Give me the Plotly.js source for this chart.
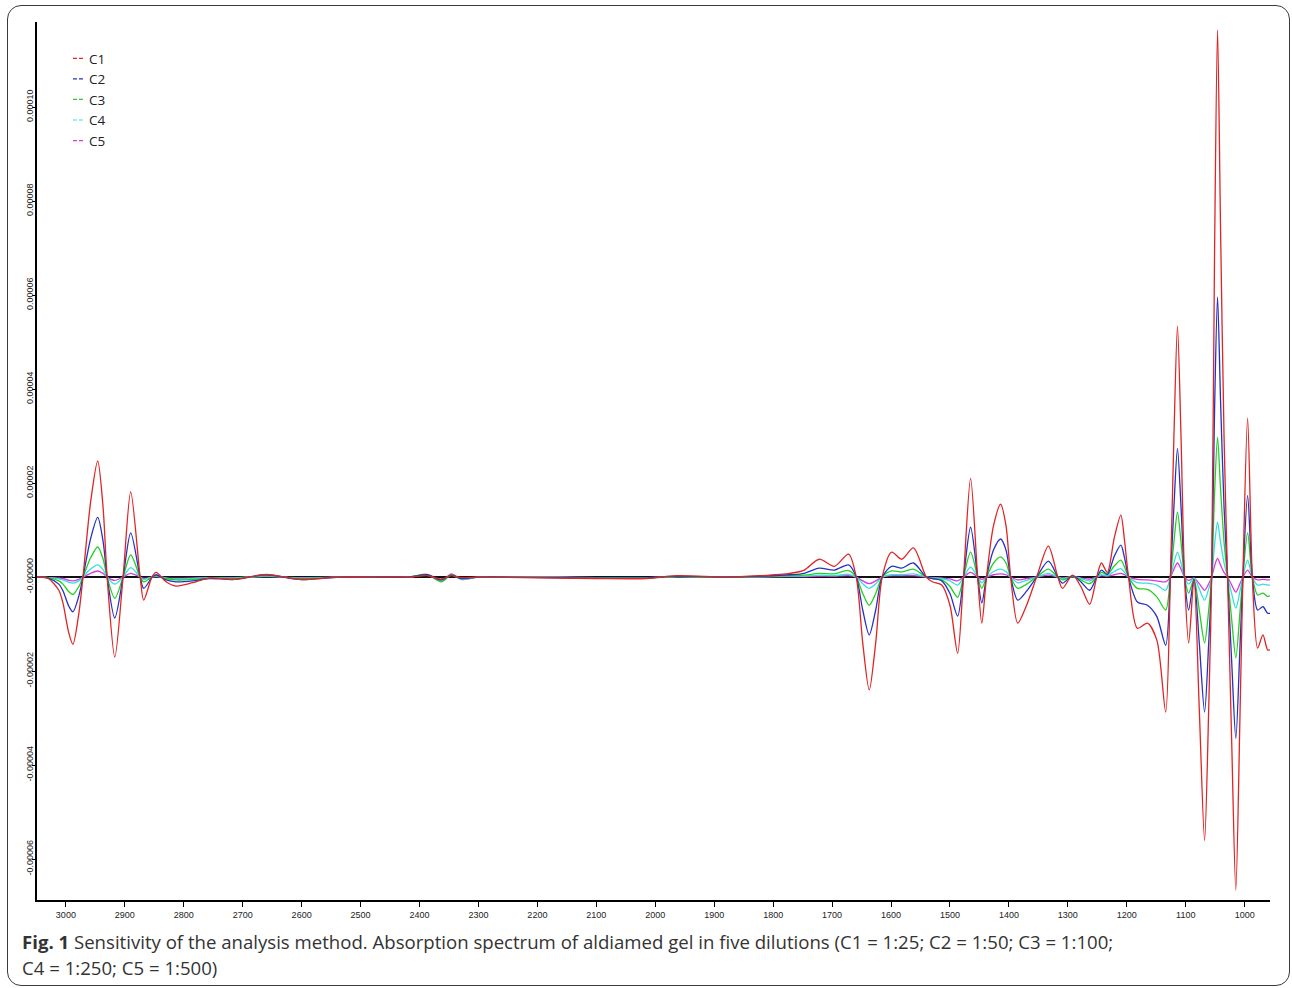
<!DOCTYPE html>
<html>
<head>
<meta charset="utf-8">
<script src="https://cdn.plot.ly/plotly-3.0.1.min.js"></script>
<style>
  html, body { margin: 0; padding: 0; background: #fff; }
  #wrap { position: relative; width: 1292px; height: 988px; overflow: hidden; }
  #chart { position: absolute; left: 0; top: 0; width: 1292px; height: 988px; }
  #frame { position: absolute; left: 7px; top: 5px; width: 1283px; height: 981px; box-sizing: border-box;
           border: 1.5px solid #3a3a3a; border-radius: 14px; pointer-events: none; }
</style>
</head>
<body>
<div id="wrap">
  <div id="chart"></div>
  <div id="frame"></div>
</div>
<script>
// Wavenumbers (cm-1)
const wavenumber = [3049,3030,3012,3005,2995,2988,2978,2971,2958,2946,2937,2930,2917,2903,2890,2874,2868,2854,2847,2830,2813,2785,2757,2715,2660,2604,2536,2420,2387,2363,2346,2329,2300,2100,2015,1963,1880,1823,1772,1747,1722,1696,1672,1659,1648,1637,1626,1615,1599,1582,1562,1540,1530,1514,1500,1487,1477,1465,1453,1446,1438,1426,1414,1405,1397,1385,1370,1353,1333,1317,1309,1292,1278,1263,1251,1243,1233,1221,1210,1204,1197,1182,1165,1149,1134,1126,1120,1114,1108,1102,1095,1086,1077,1068,1061,1056,1051,1046,1041,1035,1029,1022,1015,1008,1003,995,987,978,969,961,957];

// C1 = 1:25
const c1 = [0,-0.03e-5,-0.28e-5,-0.55e-5,-1.19e-5,-1.43e-5,-0.77e-5,0,1.6e-5,2.47e-5,1.5e-5,0,-1.70e-5,0,1.81e-5,0,-0.49e-5,0,0.10e-5,-0.10e-5,-0.19e-5,-0.12e-5,-0.02e-5,-0.05e-5,0.06e-5,-0.05e-5,0,0,0.03e-5,-0.04e-5,0.03e-5,-0.01e-5,0,-0.03e-5,-0.03e-5,0.03e-5,0,0.03e-5,0.08e-5,0.15e-5,0.38e-5,0.23e-5,0.49e-5,0,-1.40e-5,-2.40e-5,-1.40e-5,0,0.53e-5,0.38e-5,0.62e-5,0,-0.10e-5,-0.17e-5,-0.60e-5,-1.62e-5,0,2.10e-5,0,-0.98e-5,0,1.10e-5,1.55e-5,1.10e-5,0,-0.98e-5,-0.60e-5,0,0.66e-5,0,-0.24e-5,0.04e-5,-0.20e-5,-0.58e-5,0,0.30e-5,0.10e-5,0.85e-5,1.32e-5,0.80e-5,0,-1.09e-5,-0.98e-5,-1.34e-5,-2.87e-5,0,3.00e-5,5.34e-5,3.00e-5,0,-1.40e-5,-0.05e-5,-2.80e-5,-5.60e-5,-2.80e-5,0,7.00e-5,11.64e-5,7.50e-5,3.00e-5,0,-3.50e-5,-6.66e-5,-3.00e-5,0,3.38e-5,0,-1.51e-5,-1.23e-5,-1.55e-5,-1.55e-5];

// C2 = 1:50
const c2 = [0,-0.02e-5,-0.15e-5,-0.29e-5,-0.62e-5,-0.74e-5,-0.40e-5,0,0.82e-5,1.27e-5,0.77e-5,0,-0.87e-5,0,0.94e-5,0,-0.24e-5,-0.01e-5,0.05e-5,-0.06e-5,-0.10e-5,-0.08e-5,-0.03e-5,-0.05e-5,0.05e-5,-0.05e-5,0,0,0.05e-5,-0.06e-5,0.04e-5,-0.03e-5,0,-0.02e-5,-0.02e-5,0.02e-5,0,0.02e-5,0.05e-5,0.08e-5,0.19e-5,0.15e-5,0.26e-5,0,-0.70e-5,-1.23e-5,-0.70e-5,0,0.23e-5,0.19e-5,0.30e-5,0,-0.03e-5,-0.08e-5,-0.35e-5,-0.83e-5,0,1.06e-5,0,-0.55e-5,0,0.58e-5,0.81e-5,0.58e-5,0,-0.49e-5,-0.30e-5,0,0.34e-5,0,-0.13e-5,0.03e-5,-0.10e-5,-0.28e-5,0,0.15e-5,0.06e-5,0.45e-5,0.68e-5,0.42e-5,0,-0.53e-5,-0.60e-5,-0.84e-5,-1.45e-5,0,1.50e-5,2.74e-5,1.50e-5,0,-0.70e-5,-0.05e-5,-1.40e-5,-2.87e-5,-1.40e-5,0,3.60e-5,5.96e-5,3.80e-5,1.50e-5,0,-1.80e-5,-3.43e-5,-1.50e-5,0,1.74e-5,0,-0.70e-5,-0.63e-5,-0.77e-5,-0.77e-5];

// C3 = 1:100
const c3 = [0,-0.01e-5,-0.08e-5,-0.15e-5,-0.31e-5,-0.37e-5,-0.20e-5,0,0.41e-5,0.64e-5,0.39e-5,0,-0.45e-5,0,0.47e-5,0,-0.10e-5,0,0.03e-5,-0.03e-5,-0.06e-5,-0.05e-5,-0.02e-5,-0.03e-5,0.03e-5,-0.03e-5,0,0,0.06e-5,-0.10e-5,0.05e-5,-0.03e-5,0,-0.02e-5,-0.02e-5,0.01e-5,0,0.01e-5,0.03e-5,0.04e-5,0.08e-5,0.07e-5,0.14e-5,0,-0.35e-5,-0.60e-5,-0.35e-5,0,0.13e-5,0.11e-5,0.17e-5,0,-0.03e-5,-0.06e-5,-0.20e-5,-0.43e-5,0,0.53e-5,0,-0.24e-5,0,0.30e-5,0.43e-5,0.30e-5,0,-0.24e-5,-0.15e-5,0,0.17e-5,0,-0.06e-5,0.02e-5,-0.06e-5,-0.14e-5,0,0.10e-5,0.05e-5,0.24e-5,0.36e-5,0.22e-5,0,-0.24e-5,-0.26e-5,-0.42e-5,-0.70e-5,0,0.75e-5,1.38e-5,0.75e-5,0,-0.34e-5,-0.05e-5,-0.70e-5,-1.40e-5,-0.70e-5,0,1.80e-5,2.98e-5,1.90e-5,0.75e-5,0,-0.90e-5,-1.72e-5,-0.75e-5,0,0.94e-5,0,-0.38e-5,-0.34e-5,-0.41e-5,-0.40e-5];

// C4 = 1:250
const c4 = [0,-0.01e-5,-0.04e-5,-0.06e-5,-0.11e-5,-0.13e-5,-0.08e-5,0,0.17e-5,0.26e-5,0.16e-5,0,-0.15e-5,0,0.20e-5,0,-0.05e-5,0,0.02e-5,-0.02e-5,-0.04e-5,-0.03e-5,-0.01e-5,-0.02e-5,0.02e-5,-0.02e-5,0,0,0.05e-5,-0.07e-5,0.04e-5,-0.05e-5,0,-0.01e-5,-0.01e-5,0.01e-5,0,0.01e-5,0.02e-5,0.02e-5,0.04e-5,0.03e-5,0.06e-5,0,-0.14e-5,-0.24e-5,-0.14e-5,0,0.05e-5,0.05e-5,0.07e-5,0,-0.02e-5,-0.03e-5,-0.08e-5,-0.17e-5,0,0.21e-5,0,-0.12e-5,0,0.12e-5,0.17e-5,0.12e-5,0,-0.12e-5,-0.07e-5,0,0.08e-5,0,-0.03e-5,0.01e-5,-0.03e-5,-0.08e-5,0,0.05e-5,0.03e-5,0.12e-5,0.18e-5,0.10e-5,0,-0.12e-5,-0.13e-5,-0.17e-5,-0.28e-5,0,0.30e-5,0.53e-5,0.30e-5,0,-0.15e-5,-0.02e-5,-0.25e-5,-0.49e-5,-0.25e-5,0,0.70e-5,1.17e-5,0.75e-5,0.30e-5,0,-0.35e-5,-0.66e-5,-0.30e-5,0,0.36e-5,0,-0.17e-5,-0.15e-5,-0.17e-5,-0.17e-5];

// C5 = 1:500
const c5 = [0,-0.01e-5,-0.02e-5,-0.03e-5,-0.07e-5,-0.08e-5,-0.05e-5,0,0.08e-5,0.13e-5,0.08e-5,0,-0.07e-5,0,0.08e-5,0,-0.03e-5,0,0.01e-5,-0.02e-5,-0.03e-5,-0.02e-5,-0.01e-5,-0.01e-5,0.01e-5,-0.01e-5,0,0,0.04e-5,-0.08e-5,0.07e-5,-0.05e-5,0,-0.01e-5,-0.01e-5,0.01e-5,0,0,0.01e-5,0.01e-5,0.02e-5,0.02e-5,0.03e-5,0,-0.08e-5,-0.14e-5,-0.08e-5,0,0.03e-5,0.03e-5,0.03e-5,0,-0.01e-5,-0.02e-5,-0.04e-5,-0.08e-5,0,0.10e-5,0,-0.05e-5,0,0.05e-5,0.07e-5,0.05e-5,0,-0.06e-5,-0.03e-5,0,0.04e-5,0,-0.02e-5,0.01e-5,-0.02e-5,-0.04e-5,0,0.03e-5,0.02e-5,0.05e-5,0.08e-5,0.05e-5,0,-0.05e-5,-0.06e-5,-0.08e-5,-0.10e-5,0,0.17e-5,0.30e-5,0.17e-5,0,-0.07e-5,-0.02e-5,-0.14e-5,-0.28e-5,-0.14e-5,0,0.24e-5,0.40e-5,0.26e-5,0.10e-5,0,-0.17e-5,-0.32e-5,-0.14e-5,0,0.15e-5,0,-0.06e-5,-0.05e-5,-0.06e-5,-0.06e-5];

const seriesNames = ['C1','C2','C3','C4','C5'];
const seriesValues = [c1, c2, c3, c4, c5];
const seriesColors = ['#e02424','#2232c4','#22d022','#36dede','#e034e0'];

const xTickVals = [3000,2900,2800,2700,2600,2500,2400,2300,2200,2100,2000,1900,1800,1700,1600,1500,1400,1300,1200,1100,1000];
const yTickVals = [-6e-5,-4e-5,-2e-5,0,2e-5,4e-5,6e-5,8e-5,10e-5];
const yTickText = ['-0.00006','-0.00004','-0.00002','-0.00000','0.00002','0.00004','0.00006','0.00008','0.00010'];

const captionLine1 = '<b>Fig. 1</b> Sensitivity of the analysis method. Absorption spectrum of aldiamed gel in five dilutions (C1 = 1:25; C2 = 1:50; C3 = 1:100;';
const captionLine2 = 'C4 = 1:250; C5 = 1:500)';

const traces = [];
// draw strongest (C1) last so it sits on top, like the reference
for (let i = seriesNames.length - 1; i >= 0; i--) {
  traces.push({
    type: 'scatter', mode: 'lines', name: seriesNames[i],
    x: wavenumber, y: seriesValues[i],
    line: { color: seriesColors[i], width: 1.3, shape: 'spline', smoothing: 0.8 },
    showlegend: false, hoverinfo: 'x+y+name'
  });
}
// legend entries with short dashed symbols, as in the reference legend
for (let i = 0; i < seriesNames.length; i++) {
  traces.push({
    type: 'scatter', mode: 'lines', name: seriesNames[i],
    x: [null], y: [null],
    line: { color: seriesColors[i], width: 1.2, dash: '0px,19px,4px,2px,4px,100px' },
    showlegend: true, hoverinfo: 'skip'
  });
}

const axisFont = { family: 'Liberation Sans, Arial, sans-serif', size: 9, color: '#222' };

const layout = {
  width: 1292, height: 988,
  margin: { l: 37, r: 22, t: 22, b: 88, pad: 0 },
  paper_bgcolor: '#fff', plot_bgcolor: '#fff',
  showlegend: true,
  legend: {
    x: 0.0097, y: 0.976, xanchor: 'left', yanchor: 'top',
    bgcolor: 'rgba(0,0,0,0)', borderwidth: 0, tracegroupgap: 0, itemwidth: 30,
    font: { family: 'Open Sans, sans-serif', size: 13.5, color: '#222' }
  },
  xaxis: {
    range: [3049, 957], tickmode: 'array', tickvals: xTickVals,
    ticks: 'outside', ticklen: 5, tickwidth: 1, tickcolor: '#000',
    showline: true, linecolor: '#000', linewidth: 2, mirror: false,
    showgrid: false, zeroline: false, tickfont: axisFont
  },
  yaxis: {
    range: [-6.87e-5, 11.81e-5], tickmode: 'array', tickvals: yTickVals, ticktext: yTickText,
    tickangle: -90, ticks: 'outside', ticklen: 3, tickwidth: 1, tickcolor: '#000',
    ticklabelstandoff: -5,
    showline: true, linecolor: '#000', linewidth: 2, mirror: false,
    showgrid: false, zeroline: true, zerolinecolor: '#111', zerolinewidth: 1.5,
    tickfont: axisFont
  },
  annotations: [
    { text: captionLine1, xref: 'paper', yref: 'paper', x: -0.0138, y: -0.0478,
      xanchor: 'left', yanchor: 'middle', showarrow: false, align: 'left',
      font: { family: 'Open Sans, sans-serif', size: 18.6, color: '#333' } },
    { text: captionLine2, xref: 'paper', yref: 'paper', x: -0.0138, y: -0.0774,
      xanchor: 'left', yanchor: 'middle', showarrow: false, align: 'left',
      font: { family: 'Open Sans, sans-serif', size: 18.6, color: '#333' } }
  ]
};

Plotly.newPlot('chart', traces, layout, { displayModeBar: false });
</script>
</body>
</html>
